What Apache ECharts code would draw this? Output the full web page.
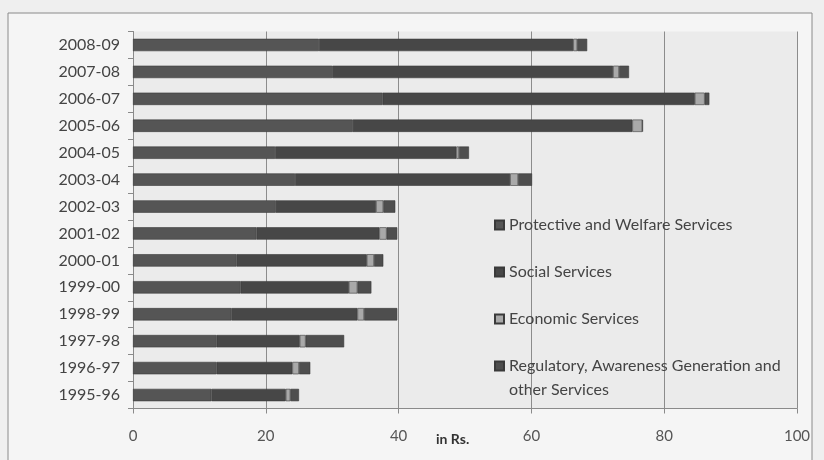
<!DOCTYPE html>
<html>
<head>
<meta charset="utf-8">
<script src="https://cdn.jsdelivr.net/npm/echarts@6/dist/echarts.min.js"></script>
<style>
html,body{margin:0;padding:0;background:#efefef;}
#count_01{width:824px;height:460px;}
</style>
</head>
<body>
<div id="count_01"></div>
<script>
// years, top to bottom as in the picture
var years = ['2008-09','2007-08','2006-07','2005-06','2004-05','2003-04','2002-03','2001-02','2000-01','1999-00','1998-99','1997-98','1996-97','1995-96'];
var protective = [28.0, 30.0, 37.6, 33.1, 21.4, 24.4, 21.5, 18.6, 15.6, 16.2, 14.8, 12.6, 12.6, 11.8];
var social     = [38.3, 42.3, 47.0, 42.1, 27.3, 32.4, 15.1, 18.5, 19.6, 16.3, 19.0, 12.5, 11.4, 11.2];
var economic   = [0.6, 0.9, 1.5, 1.5, 0.4, 1.2, 1.1, 1.1, 1.1, 1.3, 1.0, 0.9, 1.0, 0.7];
var regulatory = [1.5, 1.5, 0.7, 0.1, 1.5, 2.1, 1.8, 1.6, 1.4, 2.1, 5.0, 5.8, 1.7, 1.3];
var xTicks = [0, 20, 40, 60, 80, 100];

var names = ['Protective and Welfare Services','Social Services','Economic Services','Regulatory, Awareness Generation and other Services'];
var colors = ['#555555','#474747','#a9a9a9','#4e4e4e'];

var dom_01 = document.getElementById("count_01");
var myChart_01 = echarts.init(dom_01);

function makeSeries(i, data){
	return {
		name: names[i],
		type: 'bar',
		stack: 'total',
		barCategoryGap: '54%',
		data: data,
		itemStyle: {
			color: colors[i],
			borderColor: '#3a3a3a',
			borderWidth: 0.6
		}
	};
}

var textFont = 'Lato';

option_01 = {
	backgroundColor: '#efefef',
	animation: false,
	textStyle: {fontFamily: textFont},
	graphic: [
		{
			type: 'rect',
			shape: {x: 8, y: 13, width: 804, height: 460},
			style: {fill: '#f5f5f5', stroke: '#8a8a8a', lineWidth: 1},
			z: -10
		},
		{
			type: 'rect',
			shape: {x: 133, y: 31.5, width: 664, height: 377},
			style: {fill: '#ebebeb'},
			z: -5
		},
		{
			type: 'text',
			left: 436,
			top: 432,
			style: {text: 'in Rs.', font: 'bold 14px ' + textFont, fill: '#333'}
		},
		{
			// second line of the last legend entry
			type: 'text',
			left: 509,
			top: 382,
			style: {text: 'other Services', font: '16px ' + textFont, fill: '#444'}
		}
	],
	legend: {
		orient: 'vertical',
		left: 494,
		top: 213,
		padding: 0,
		itemWidth: 9,
		itemHeight: 9,
		itemGap: 23,
		icon: 'rect',
		data: names,
		formatter: function(n){
			return n === names[3] ? 'Regulatory, Awareness Generation and' : n;
		},
		textStyle: {color: '#444', fontSize: 16, lineHeight: 24, fontFamily: textFont}
	},
	grid: {
		left: 133,
		right: 27,
		top: 31.5,
		bottom: 51.5
	},
	xAxis: {
		type: 'value',
		min: 0,
		max: 100,
		interval: 20,
		axisLine: {show: true, lineStyle: {color: '#8a8a8a'}},
		axisTick: {show: true, length: 5, lineStyle: {color: '#8a8a8a'}},
		axisLabel: {
			color: '#555',
			fontSize: 15,
			margin: 20,
			fontFamily: textFont,
			formatter: function(v){ return xTicks.indexOf(v) >= 0 ? String(v) : ''; }
		},
		splitLine: {show: true, lineStyle: {color: '#8c8c8c', width: 1}}
	},
	yAxis: {
		type: 'category',
		inverse: true,
		data: years,
		axisLine: {show: true, lineStyle: {color: '#8a8a8a'}},
		axisTick: {show: true, length: 5, lineStyle: {color: '#8a8a8a'}},
		axisLabel: {color: '#444', fontSize: 16, margin: 13, fontFamily: textFont}
	},
	series: [
		makeSeries(0, protective),
		makeSeries(1, social),
		makeSeries(2, economic),
		makeSeries(3, regulatory)
	]
};
if (option_01 && typeof option_01 === "object") {
	myChart_01.setOption(option_01, true);
}
</script>
</body>
</html>
